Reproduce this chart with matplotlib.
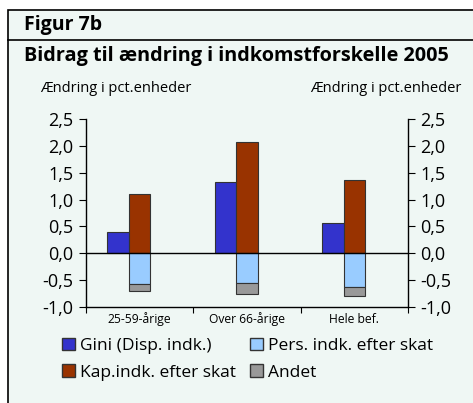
import matplotlib
matplotlib.use("Agg")
import matplotlib.pyplot as plt
from matplotlib.patches import Rectangle, Patch
import numpy as np

categories = ["25-59-årige", "Over 66-årige", "Hele bef."]
gini = [0.40, 1.33, 0.56]
kap = [1.10, 2.07, 1.36]
pers = [-0.57, -0.56, -0.63]
andet = [-0.14, -0.19, -0.17]
yticks = [-1.0, -0.5, 0.0, 0.5, 1.0, 1.5, 2.0, 2.5]

series_names = ["Gini (Disp. indk.)", "Kap.indk. efter skat", "Pers. indk. efter skat", "Andet"]
c_gini, c_pers, c_kap, c_andet = "#3333cc", "#99ccff", "#993300", "#999999"

plt.rcParams['font.family'] = ['Open Sans', 'DejaVu Sans']
W, H = 473, 403
fig = plt.figure(figsize=(W/100, H/100), dpi=100)
fig.patch.set_facecolor("white")

bg = "#eff7f4"
fig.patches.append(Rectangle((8/W, -0.1), 1.2, 1.1 - 10/H, transform=fig.transFigure,
                             facecolor=bg, edgecolor="black", lw=1.2, zorder=-10))
fig.add_artist(plt.Line2D([8/W, 1], [1 - 40/H, 1 - 40/H], color="black", lw=1.2))

fig.text(24/W, 1 - 25/H, "Figur 7b", fontsize=14, fontweight="bold", va="center", ha="left")
fig.text(24/W, 1 - 56/H, "Bidrag til ændring i indkomstforskelle 2005", fontsize=14.3,
         fontweight="bold", va="center", ha="left")
fig.text(40/W, 1 - 88/H, "Ændring i pct.enheder", fontsize=10.5, va="center", ha="left")
fig.text(310/W, 1 - 88/H, "Ændring i pct.enheder", fontsize=10.5, va="center", ha="left")

x0, x1 = 86, 408
y_top, y_bot = 119, 307
ax = fig.add_axes([x0/W, 1 - y_bot/H, (x1 - x0)/W, (y_bot - y_top)/H])
ax.set_facecolor("none")

x = np.arange(len(categories))
w = 0.2
ec = "#333333"
ax.bar(x - w, gini, w, color=c_gini, edgecolor=ec, lw=0.8, zorder=2)
ax.bar(x, kap, w, color=c_kap, edgecolor=ec, lw=0.8, zorder=2)
ax.bar(x, pers, w, color=c_pers, edgecolor=ec, lw=0.8, zorder=2)
ax.bar(x, andet, w, bottom=pers, color=c_andet, edgecolor=ec, lw=0.8, zorder=2)
ax.axhline(0, color="black", lw=1, zorder=3)

ax.set_xlim(-0.5, len(categories) - 0.5)
ax.set_ylim(-1.0, 2.5)
ax.set_yticks(yticks)
ax.set_yticklabels([f"{v:.1f}".replace(".", ",") for v in yticks], fontsize=13)
ax.tick_params(axis="y", which="both", left=True, right=True, labelleft=True, labelright=True,
               direction="out", length=5, pad=4)
ax.set_xticks(np.arange(len(categories) + 1) - 0.5)
ax.set_xticklabels([])
ax.set_xticks(x, minor=True)
ax.set_xticklabels(categories, minor=True, fontsize=8.7)
ax.tick_params(axis="x", which="major", direction="out", length=4)
ax.tick_params(axis="x", which="minor", length=0, pad=4)
ax.spines["top"].set_visible(False)
for s in ["left", "right", "bottom"]:
    ax.spines[s].set_color("black")
    ax.spines[s].set_linewidth(1)

handles = [Patch(facecolor=c_gini, edgecolor=ec), Patch(facecolor=c_kap, edgecolor=ec),
           Patch(facecolor=c_pers, edgecolor=ec), Patch(facecolor=c_andet, edgecolor=ec)]
fig.legend(handles, series_names, ncol=2, loc="upper left",
           bbox_to_anchor=(46/W, 1 - 322/H), frameon=False, fontsize=12.5,
           handlelength=0.75, handleheight=0.75, handletextpad=0.3, columnspacing=0.8,
           labelspacing=0.6)

fig.savefig("out.png", dpi=100, facecolor=fig.get_facecolor())
